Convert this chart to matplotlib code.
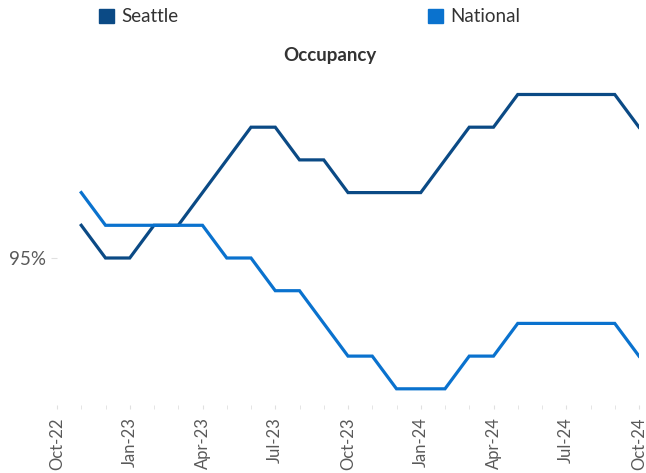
import numpy as np
import matplotlib
matplotlib.use("Agg")
import matplotlib.pyplot as plt
from matplotlib.patches import Patch

# monthly occupancy, Nov-22 .. Oct-24
months = ['Nov-22', 'Dec-22', 'Jan-23', 'Feb-23', 'Mar-23', 'Apr-23', 'May-23', 'Jun-23',
          'Jul-23', 'Aug-23', 'Sep-23', 'Oct-23', 'Nov-23', 'Dec-23', 'Jan-24', 'Feb-24',
          'Mar-24', 'Apr-24', 'May-24', 'Jun-24', 'Jul-24', 'Aug-24', 'Sep-24', 'Oct-24']
seattle = [95.1, 95.0, 95.0, 95.1, 95.1, 95.2, 95.3, 95.4, 95.4, 95.3, 95.3, 95.2,
           95.2, 95.2, 95.2, 95.3, 95.4, 95.4, 95.5, 95.5, 95.5, 95.5, 95.5, 95.4]
national = [95.2, 95.1, 95.1, 95.1, 95.1, 95.1, 95.0, 95.0, 94.9, 94.9, 94.8, 94.7,
            94.7, 94.6, 94.6, 94.6, 94.7, 94.7, 94.8, 94.8, 94.8, 94.8, 94.8, 94.7]
tick_labels = ['Oct-22', 'Jan-23', 'Apr-23', 'Jul-23', 'Oct-23', 'Jan-24', 'Apr-24', 'Jul-24', 'Oct-24']

c_sea = '#0B4A85'
c_nat = '#0A72CE'

plt.rcParams['font.family'] = ['Lato', 'DejaVu Sans']

fig = plt.figure(figsize=(6.46, 4.73), dpi=100)
ax = fig.add_axes([57/646, 68/473, (639-57)/646, 325/473])

x = np.arange(1, len(months) + 1)  # position 0 = Oct-22
ax.plot(x, seattle, color=c_sea, lw=2.3, solid_joinstyle='miter')
ax.plot(x, national, color=c_nat, lw=2.3, solid_joinstyle='miter')

ax.set_xlim(0, len(months))
ax.set_ylim(94.5505, 95.5443)

ax.set_xticks(np.arange(0, len(months) + 1, 3))
ax.set_xticklabels(tick_labels, rotation=90, fontsize=12, color='#595959')
ax.set_xticks(np.arange(0, len(months) + 1), minor=True)
ax.tick_params(axis='x', which='both', length=3, color='#E0E0E0', pad=6)

ax.set_yticks([95.0])
ax.set_yticklabels(['95%'], fontsize=13.5, color='#595959')
ax.tick_params(axis='y', length=4, color='#E0E0E0', pad=4)

for s in ax.spines.values():
    s.set_visible(False)

fig.text(330/646, 1 - 56/473, 'Occupancy', ha='center', va='center',
         fontsize=13.5, fontweight='bold', color='#333333')

handles = [Patch(color=c_sea, label='Seattle'), Patch(color=c_nat, label='National')]
fig.legend(handles=handles, ncol=2, loc='center left', bbox_to_anchor=(82/646, 1 - 17/473),
           frameon=False, fontsize=13.5, handlelength=0.8, handleheight=0.8,
           handletextpad=0.4, columnspacing=13.3, labelcolor='#333333')

fig.savefig('out.png', dpi=100)
